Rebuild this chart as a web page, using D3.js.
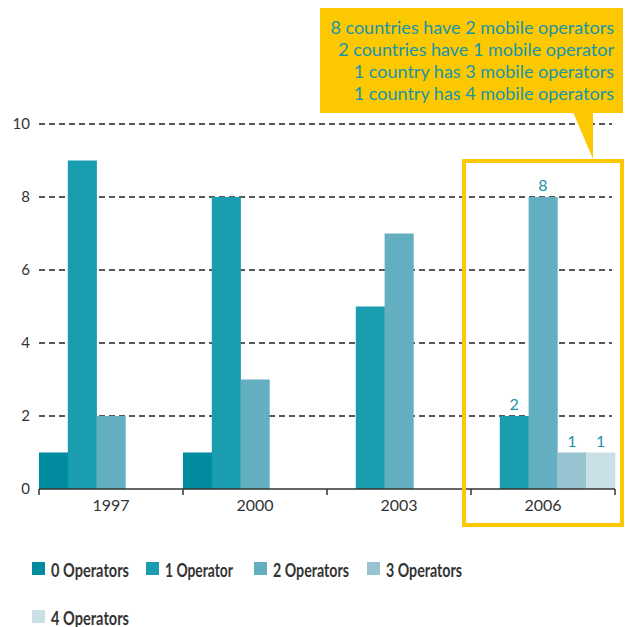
<!DOCTYPE html>
<html><head><meta charset="utf-8">
<script src="https://cdn.jsdelivr.net/npm/d3@7"></script>
<style>body{margin:0;background:#fff}svg{display:block}</style>
</head><body>
<svg id="chart" width="630" height="627"></svg>
<script>
const years = ["1997", "2000", "2003", "2006"];
const seriesNames = ["0 Operators", "1 Operator", "2 Operators", "3 Operators", "4 Operators"];
const op0 = [1, 1, 0, 0];
const op1 = [9, 8, 5, 2];
const op2 = [2, 3, 7, 8];
const op3 = [0, 0, 0, 1];
const op4 = [0, 0, 0, 1];
const colors = ["#008b9f", "#1a9db1", "#64aec2", "#98c3d1", "#c8e0e6"];
const yTicks = [0, 2, 4, 6, 8, 10];
const calloutLines = ["8 countries have 2 mobile operators", "2 countries have 1 mobile operator", "1 country has 3 mobile operators", "1 country has 4 mobile operators"];
const labelledYear = "2006";

const series = [op0, op1, op2, op3, op4];
const svg = d3.select("#chart");
const font = "Lato, 'Open Sans', sans-serif";
const x = d3.scaleBand().domain(years).range([39, 615]).padding(0);
const xs = d3.scaleBand().domain(d3.range(series.length)).range([0, x.bandwidth()]).padding(0);
const y = d3.scaleLinear().domain([0, 10]).range([489, 124]);

// gridlines
svg.append("g").selectAll("line").data(yTicks.filter(d => d > 0)).join("line")
  .attr("x1", 39).attr("x2", 612).attr("y1", d => y(d)).attr("y2", d => y(d))
  .attr("stroke", "#222").attr("stroke-width", 1.5).attr("stroke-dasharray", "6,4");

// bars
const data = [];
years.forEach((yr, i) => series.forEach((s, k) => data.push({yr, k, v: s[i]})));
svg.append("g").selectAll("rect").data(data.filter(d => d.v > 0)).join("rect")
  .attr("x", d => x(d.yr) + xs(d.k)).attr("width", xs.bandwidth() + 0.3)
  .attr("y", d => y(d.v)).attr("height", d => y(0) - y(d.v))
  .attr("fill", d => colors[d.k]);

// value labels
svg.append("g").selectAll("text").data(data.filter(d => d.yr === labelledYear && d.v > 0 && d.k > 0)).join("text")
  .attr("x", d => x(d.yr) + xs(d.k) + xs.bandwidth() / 2).attr("y", d => y(d.v) - 6)
  .attr("text-anchor", "middle").attr("font-family", font).attr("font-size", 16)
  .attr("fill", "#1a94a8").text(d => d.v);

// x axis
const xAxis = svg.append("g").attr("transform", `translate(0,${y(0)})`);
xAxis.append("line").attr("x1", 39).attr("x2", 615).attr("stroke", "#333").attr("stroke-width", 1.5);
const tickPos = years.map(d => x(d)).concat([x.range()[1]]);
xAxis.selectAll("line.t").data(tickPos).join("line").attr("class", "t")
  .attr("x1", d => d).attr("x2", d => d).attr("y1", 0).attr("y2", 6)
  .attr("stroke", "#333").attr("stroke-width", 1.5);
xAxis.selectAll("text").data(years).join("text")
  .attr("x", d => x(d) + x.bandwidth() / 2).attr("y", 22)
  .attr("text-anchor", "middle").attr("font-family", font).attr("font-size", 16)
  .attr("fill", "#333").text(d => d);

// y labels
svg.append("g").selectAll("text").data(yTicks).join("text")
  .attr("x", 30).attr("y", d => y(d) + 5).attr("text-anchor", "end")
  .attr("font-family", font).attr("font-size", 15).attr("fill", "#333").text(d => d);

// highlight box
svg.append("rect").attr("x", 464).attr("y", 161).attr("width", 158).attr("height", 364)
  .attr("fill", "none").attr("stroke", "#fdc800").attr("stroke-width", 4);

// callout
svg.append("rect").attr("x", 320).attr("y", 8).attr("width", 303).attr("height", 105).attr("fill", "#fcc800");
svg.append("path").attr("d", "M573,112 L593,112 L593,159 Z").attr("fill", "#fcc800");
svg.append("g").selectAll("text").data(calloutLines).join("text")
  .attr("x", 614).attr("y", (d, i) => 34 + i * 22).attr("text-anchor", "end")
  .attr("font-family", font).attr("font-size", 18).attr("fill", "#1a94a8").text(d => d);

// legend
const legPos = [[32, 562], [146, 562], [254, 562], [367, 562], [32, 610]];
const legW = [78, 68, 76, 76, 78];
const leg = svg.append("g").selectAll("g").data(seriesNames).join("g")
  .attr("transform", (d, i) => `translate(${legPos[i][0]},${legPos[i][1]})`);
leg.append("rect").attr("width", 13).attr("height", 13).attr("fill", (d, i) => colors[i]);
leg.append("text").attr("x", 19).attr("y", 15).attr("font-family", font).attr("font-size", 19)
  .attr("font-weight", "bold").attr("fill", "#333")
  .attr("textLength", (d, i) => legW[i]).attr("lengthAdjust", "spacingAndGlyphs").text(d => d);
</script>
</body></html>
